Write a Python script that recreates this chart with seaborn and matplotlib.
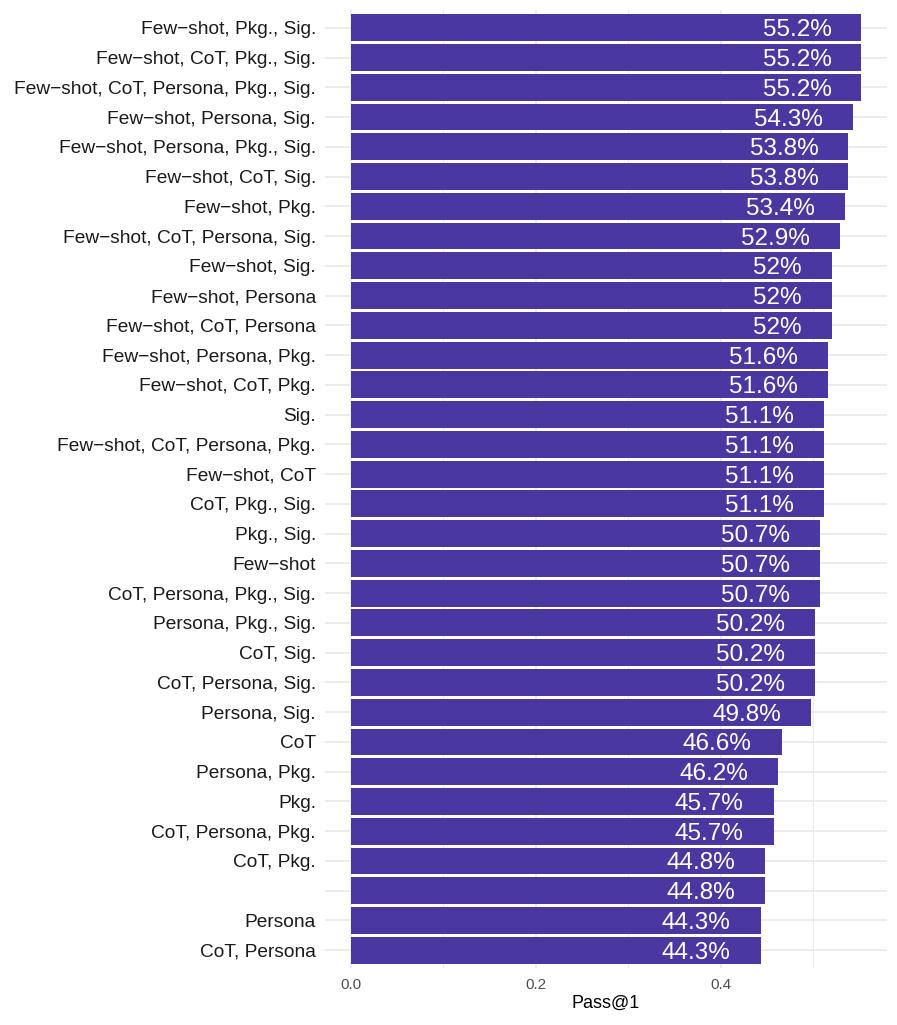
import numpy as np
import pandas as pd
import matplotlib
matplotlib.use("Agg")
import matplotlib.pyplot as plt
from matplotlib.ticker import MultipleLocator
import seaborn as sns

# ── Data (top to bottom, as in the chart) ─────────────────────────────────────
prompts = [
    "Few−shot, Pkg., Sig.",
    "Few−shot, CoT, Pkg., Sig.",
    "Few−shot, CoT, Persona, Pkg., Sig.",
    "Few−shot, Persona, Sig.",
    "Few−shot, Persona, Pkg., Sig.",
    "Few−shot, CoT, Sig.",
    "Few−shot, Pkg.",
    "Few−shot, CoT, Persona, Sig.",
    "Few−shot, Sig.",
    "Few−shot, Persona",
    "Few−shot, CoT, Persona",
    "Few−shot, Persona, Pkg.",
    "Few−shot, CoT, Pkg.",
    "Sig.",
    "Few−shot, CoT, Persona, Pkg.",
    "Few−shot, CoT",
    "CoT, Pkg., Sig.",
    "Pkg., Sig.",
    "Few−shot",
    "CoT, Persona, Pkg., Sig.",
    "Persona, Pkg., Sig.",
    "CoT, Sig.",
    "CoT, Persona, Sig.",
    "Persona, Sig.",
    "CoT",
    "Persona, Pkg.",
    "Pkg.",
    "CoT, Persona, Pkg.",
    "CoT, Pkg.",
    "",
    "Persona",
    "CoT, Persona",
]
pass_at_1 = [
    0.552, 0.552, 0.552, 0.543, 0.538, 0.538, 0.534, 0.529,
    0.520, 0.520, 0.520, 0.516, 0.516, 0.511, 0.511, 0.511,
    0.511, 0.507, 0.507, 0.507, 0.502, 0.502, 0.502, 0.498,
    0.466, 0.462, 0.457, 0.457, 0.448, 0.448, 0.443, 0.443,
]
bar_labels = [
    "55.2%", "55.2%", "55.2%", "54.3%", "53.8%", "53.8%", "53.4%", "52.9%",
    "52%", "52%", "52%", "51.6%", "51.6%", "51.1%", "51.1%", "51.1%",
    "51.1%", "50.7%", "50.7%", "50.7%", "50.2%", "50.2%", "50.2%", "49.8%",
    "46.6%", "46.2%", "45.7%", "45.7%", "44.8%", "44.8%", "44.3%", "44.3%",
]

BAR_COLOR = "#4A37A0"
GRID_COLOR = "#EBEBEB"

df = pd.DataFrame({"prompt": prompts, "pass": pass_at_1})

sns.set_theme(style="white")
plt.rcParams["font.family"] = ["Liberation Sans", "DejaVu Sans"]

fig = plt.figure(figsize=(8.97, 10.25), dpi=100)
ax = fig.add_axes([325 / 897, 1 - 968 / 1025, (887 - 325) / 897, (968 - 10) / 1025])

sns.barplot(data=df, x="pass", y="prompt", order=prompts, color=BAR_COLOR,
            width=0.9, saturation=1, linewidth=0, ax=ax, zorder=2)

# value labels inside the bars, right aligned
for i, (v, lab) in enumerate(zip(pass_at_1, bar_labels)):
    ax.annotate(lab, xy=(v, i), xytext=(-21.6, 0), textcoords="offset points",
                ha="right", va="center_baseline", color="white", fontsize=17.5,
                zorder=3)

ax.set_xlim(-0.0276, 0.5796)
ax.set_ylim(len(prompts) - 0.4, -0.6)
ax.xaxis.set_minor_locator(MultipleLocator(0.1))
ax.set_xticks([0.0, 0.2, 0.4])
ax.set_xticklabels(["0.0", "0.2", "0.4"])

ax.grid(axis="x", which="major", color=GRID_COLOR, linewidth=1.3, zorder=0)
ax.grid(axis="x", which="minor", color=GRID_COLOR, linewidth=0.7, zorder=0)
ax.grid(axis="y", which="major", color=GRID_COLOR, linewidth=1.3, zorder=0)
ax.set_axisbelow(True)
for s in ax.spines.values():
    s.set_visible(False)

ax.tick_params(axis="y", length=0, pad=6.5, labelsize=13.8, labelcolor="#1A1A1A")
ax.tick_params(axis="x", which="both", length=0, pad=7, labelsize=11,
               labelcolor="#4D4D4D")
ax.set_ylabel("")
ax.set_xlabel("Pass@1", fontsize=13, color="black", labelpad=2)

fig.savefig("out.png", dpi=100)
